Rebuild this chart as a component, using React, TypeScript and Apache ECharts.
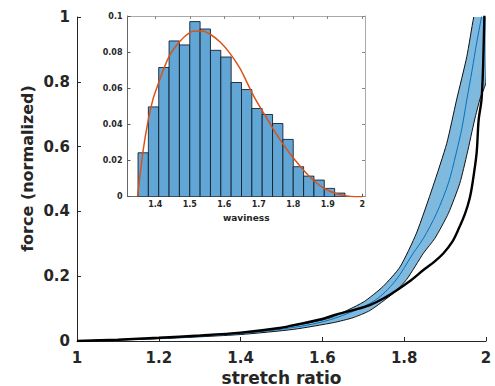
import React, { useEffect, useRef } from "react";
import * as echarts from "echarts";

// ---- main plot data (stretch ratio vs normalized force) ----
const blackCurve: [number, number][] = [
  [1.0, 0], [1.1, 0.004], [1.2, 0.010], [1.3, 0.017], [1.4, 0.026], [1.5, 0.041],
  [1.53, 0.049], [1.6, 0.068], [1.628, 0.080], [1.68, 0.097], [1.716, 0.111],
  [1.75, 0.132], [1.782, 0.157], [1.815, 0.186], [1.847, 0.219], [1.874, 0.245],
  [1.896, 0.271], [1.917, 0.305], [1.932, 0.343], [1.949, 0.394], [1.96, 0.44],
  [1.967, 0.487], [1.977, 0.579], [1.982, 0.682], [1.989, 0.744], [1.993, 0.85],
  [1.996, 1.0], [1.999, 1.08],
];
const bandUpper: [number, number][] = [
  [1.0, 0], [1.2, 0.009], [1.4, 0.025], [1.53, 0.047], [1.62, 0.072], [1.7, 0.12],
  [1.748, 0.168], [1.79, 0.229], [1.83, 0.333], [1.87, 0.476], [1.904, 0.61],
  [1.928, 0.744], [1.953, 0.877], [1.97, 1.0], [1.99, 1.11], [2.0, 1.17],
];
const bandLower: [number, number][] = [
  [1.0, 0], [1.2, 0.007], [1.4, 0.020], [1.53, 0.036], [1.628, 0.057], [1.675, 0.072],
  [1.716, 0.094], [1.773, 0.147], [1.806, 0.19], [1.847, 0.271], [1.875, 0.317],
  [1.908, 0.394], [1.936, 0.487], [1.954, 0.579], [1.972, 0.682], [1.986, 0.75],
  [2.0, 0.8],
];
const bandCenter: [number, number][] = [
  [1.0, 0], [1.2, 0.008], [1.4, 0.023], [1.53, 0.042], [1.62, 0.066], [1.7245, 0.122],
  [1.778, 0.185], [1.822, 0.271], [1.847, 0.317], [1.879, 0.394], [1.908, 0.487],
  [1.927, 0.579], [1.941, 0.656], [1.953, 0.744], [1.966, 0.836], [1.977, 0.919],
  [1.989, 1.0], [2.0, 1.08],
];

// ---- inset data (waviness histogram) ----
const binStarts = [
  1.35, 1.38, 1.41, 1.44, 1.47, 1.5, 1.53, 1.56, 1.59, 1.62,
  1.65, 1.68, 1.71, 1.74, 1.77, 1.8, 1.83, 1.86, 1.89, 1.92,
];
const binWidth = 0.03;
const binHeights = [
  0.0243, 0.0497, 0.0715, 0.0862, 0.084, 0.0969, 0.0928, 0.081, 0.0773, 0.0632,
  0.0593, 0.0488, 0.0455, 0.0405, 0.0317, 0.0166, 0.0114, 0.0092, 0.0046, 0.002,
];
const fitCurve: [number, number][] = [
  [1.3485, 0], [1.365, 0.0258], [1.3796, 0.0424], [1.394, 0.0544], [1.409, 0.0627],
  [1.423, 0.07], [1.442, 0.0783], [1.462, 0.0838], [1.486, 0.0888], [1.51, 0.0916],
  [1.535, 0.0917], [1.559, 0.0899], [1.588, 0.0856], [1.617, 0.0792], [1.646, 0.0709],
  [1.664, 0.064], [1.689, 0.0544], [1.718, 0.0451], [1.747, 0.0359], [1.776, 0.0276],
  [1.805, 0.0203], [1.834, 0.0138], [1.863, 0.0083], [1.892, 0.0043], [1.921, 0.0019],
  [1.95, 0.0006], [1.979, 0], [2.0, 0],
];

const mainXTicks = { min: 1, max: 2, interval: 0.2 };
const mainYTicks = { min: 0, max: 1, interval: 0.2 };
const insetXTickValues = [1.4, 1.5, 1.6, 1.7, 1.8, 1.9, 2.0];
const insetYTicks = { min: 0, max: 0.1, interval: 0.02 };

const FONT = "DejaVu Sans";
const TXT = "#262626";

export default function App() {
  const ref = useRef<HTMLDivElement>(null);
  useEffect(() => {
    if (!ref.current) return;
    const chart = echarts.init(ref.current, undefined, { renderer: "svg" });
    const histData = binStarts.map((s, i) => [s, s + binWidth, binHeights[i]]);
    const option: any = {
      animation: false,
      backgroundColor: "#fff",
      textStyle: { fontFamily: FONT },
      grid: [
        { left: 77, top: 17, width: 409, height: 324, containLabel: false },
        {
          left: 127.5, top: 16, width: 237.5, height: 180.7, show: true,
          backgroundColor: "#fff", borderWidth: 0, z: 5,
        },
      ],
      xAxis: [
        {
          type: "value", gridIndex: 0, ...mainXTicks,
          axisLine: { show: true, onZero: false, lineStyle: { color: TXT, width: 1 } },
          axisTick: { show: true, inside: true, length: 4, lineStyle: { color: TXT } },
          axisLabel: { fontSize: 15, fontWeight: "bold", color: TXT, margin: 9, fontFamily: FONT },
          splitLine: { show: false },
        },
        {
          type: "value", gridIndex: 1, min: 1.3195, max: 2.008,
          axisLine: { show: true, onZero: false, lineStyle: { color: "#666", width: 1 } },
          axisTick: { show: true, inside: true, length: 3, customValues: insetXTickValues, lineStyle: { color: "#555" } },
          axisLabel: {
            fontSize: 8, fontWeight: "bold", color: TXT, margin: 4, fontFamily: FONT,
            customValues: insetXTickValues,
          },
          splitLine: { show: false }, z: 6,
        },
        {
          type: "value", gridIndex: 1, position: "top", min: 1.3195, max: 2.008,
          axisLine: { show: true, onZero: false, lineStyle: { color: "#aaa", width: 1 } },
          axisTick: { show: true, inside: true, length: 3, customValues: insetXTickValues, lineStyle: { color: "#888" } },
          axisLabel: { show: false },
          splitLine: { show: false }, z: 6,
        },
      ],
      yAxis: [
        {
          type: "value", gridIndex: 0, ...mainYTicks,
          axisLine: { show: true, onZero: false, lineStyle: { color: TXT, width: 1 } },
          axisTick: { show: true, inside: true, length: 4, lineStyle: { color: TXT } },
          axisLabel: { fontSize: 15, fontWeight: "bold", color: TXT, margin: 7, fontFamily: FONT },
          splitLine: { show: false },
        },
        {
          type: "value", gridIndex: 1, ...insetYTicks,
          axisLine: { show: true, onZero: false, lineStyle: { color: "#666", width: 1 } },
          axisTick: { show: true, inside: true, length: 3, lineStyle: { color: "#555" } },
          axisLabel: { fontSize: 8, fontWeight: "bold", color: TXT, margin: 5, fontFamily: FONT },
          splitLine: { show: false }, z: 6,
        },
        {
          type: "value", gridIndex: 1, position: "right", ...insetYTicks,
          axisLine: { show: true, onZero: false, lineStyle: { color: "#aaa", width: 1 } },
          axisTick: { show: true, inside: true, length: 3, lineStyle: { color: "#888" } },
          axisLabel: { show: false },
          splitLine: { show: false }, z: 6,
        },
      ],
      series: [
        {
          type: "custom", xAxisIndex: 0, yAxisIndex: 0, clip: true,
          data: [[1, 0]],
          renderItem: (params: any, api: any) => {
            const pts = [
              ...bandUpper.map((p) => api.coord(p)),
              ...bandLower.slice().reverse().map((p) => api.coord(p)),
            ];
            return {
              type: "polygon",
              shape: { points: pts, smooth: 0.2 },
              style: { fill: "rgb(128,185,222)", stroke: "#111", lineWidth: 1 },
            };
          },
          z: 2,
        },
        {
          type: "line", xAxisIndex: 0, yAxisIndex: 0, data: bandCenter, showSymbol: false,
          smooth: 0.3, clip: true, lineStyle: { color: "#0072BD", width: 1 }, z: 3,
        },
        {
          type: "line", xAxisIndex: 0, yAxisIndex: 0, data: blackCurve, showSymbol: false,
          smooth: 0.3, clip: true, lineStyle: { color: "#000", width: 2.4 }, z: 4,
        },
        {
          type: "custom", xAxisIndex: 1, yAxisIndex: 1, data: histData, clip: true,
          encode: { x: [0, 1], y: 2 },
          renderItem: (params: any, api: any) => {
            const a = api.coord([api.value(0), 0]);
            const b = api.coord([api.value(1), api.value(2)]);
            return {
              type: "rect",
              shape: { x: a[0], y: b[1], width: b[0] - a[0], height: a[1] - b[1] },
              style: { fill: "rgb(98,166,214)", stroke: "rgba(15,25,40,0.85)", lineWidth: 1 },
            };
          },
          z: 7,
        },
        {
          type: "line", xAxisIndex: 1, yAxisIndex: 1, data: fitCurve, showSymbol: false,
          smooth: 0.3, clip: true, lineStyle: { color: "#D95319", width: 1.5 }, z: 8,
        },
      ],
      graphic: [
        {
          type: "text", x: 281.5, y: 377.5,
          style: {
            text: "stretch ratio", fontSize: 17, lineHeight: 17, fontWeight: "bold", fontFamily: FONT,
            fill: TXT, align: "center", verticalAlign: "middle",
          },
        },
        {
          type: "text", x: 27, y: 168.5, rotation: Math.PI / 2,
          style: {
            text: "force (normalized)", fontSize: 16, fontWeight: "bold", fontFamily: FONT,
            fill: TXT, align: "center", verticalAlign: "middle",
          },
        },
        {
          type: "text", x: 246.25, y: 218, z: 10,
          style: {
            text: "waviness", fontSize: 9, fontWeight: "bold", fontFamily: FONT,
            fill: TXT, align: "center", verticalAlign: "middle",
          },
        },
      ],
    };
    chart.setOption(option);
    return () => chart.dispose();
  }, []);
  return (
    <div
      ref={ref}
      style={{ position: "fixed", left: 0, top: 0, width: 495, height: 386 }}
    />
  );
}
